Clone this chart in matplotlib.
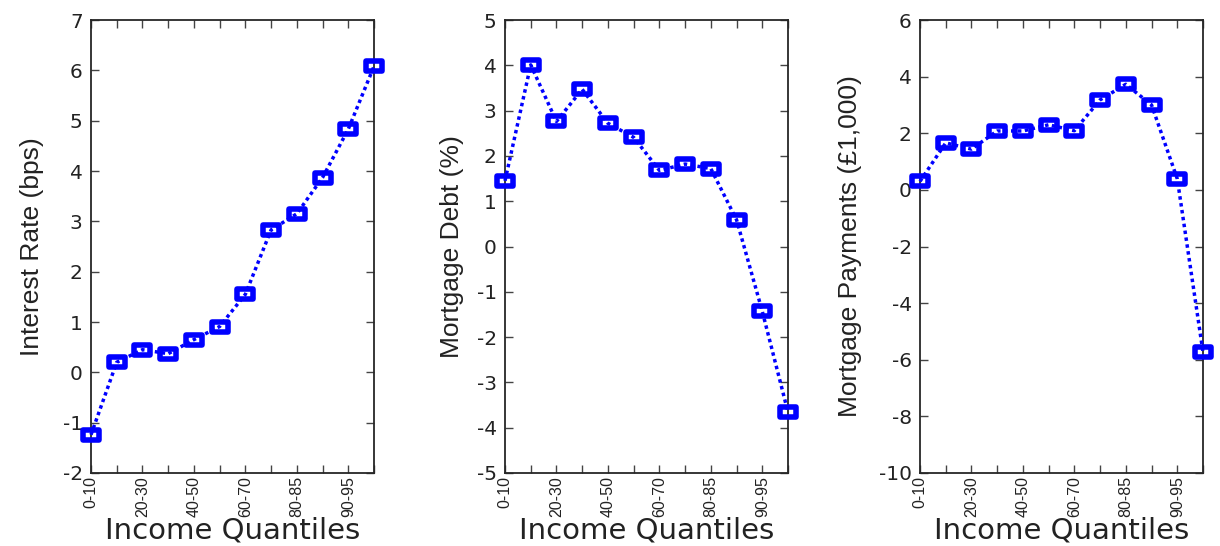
import numpy as np
import matplotlib
matplotlib.use("Agg")
import matplotlib.pyplot as plt
from matplotlib.path import Path
from matplotlib.markers import MarkerStyle

plt.rcParams['axes.unicode_minus'] = False

# Income groups along the x axis (every other one gets a label)
quantiles = ["0-10", "10-20", "20-30", "30-40", "40-50", "50-60",
             "60-70", "70-80", "80-85", "85-90", "90-95", "95-100"]

# Responses by income group
interest_rate = [-1.24, 0.20, 0.45, 0.37, 0.65, 0.91, 1.55, 2.83, 3.15, 3.87, 4.83, 6.08]
mortgage_debt = [1.45, 4.01, 2.76, 3.47, 2.72, 2.41, 1.68, 1.82, 1.72, 0.59, -1.43, -3.66]
mortgage_payments = [0.30, 1.66, 1.44, 2.08, 2.08, 2.30, 2.09, 3.18, 3.73, 3.00, 0.39, -5.73]

panels = [
    (interest_rate, "Interest Rate (bps)", (-2, 7), 1),
    (mortgage_debt, "Mortgage Debt (%)", (-5, 5), 1),
    (mortgage_payments, "Mortgage Payments (£1,000)", (-10, 6), 2),
]

# wide rectangular hollow marker with sharp corners
box = MarkerStyle(Path([(-1, -0.56), (1, -0.56), (1, 0.56), (-1, 0.56), (-1, -0.56)],
                       [Path.MOVETO, Path.LINETO, Path.LINETO, Path.LINETO, Path.CLOSEPOLY]),
                  joinstyle='miter')

fig = plt.figure(figsize=(12.2, 5.46), dpi=100, facecolor='white')

W, H = 1220.0, 546.0
lefts = [91, 505, 920]
ylabel_x = [-0.166, -0.145, -0.205]   # right edge of the rotated label, axes coords
x = np.arange(1, len(quantiles) + 1)

for left, lx, (vals, ylabel, ylim, ystep) in zip(lefts, ylabel_x, panels):
    ax = fig.add_axes([left / W, 1 - 473 / H, 283 / W, (473 - 20) / H])
    ax.plot(x, vals, color='#0000ff', lw=2.5, linestyle=(0, (1, 1)),
            marker=box, markersize=12, markeredgewidth=4,
            markerfacecolor='none', markeredgecolor='#0000ff', clip_on=False,
            zorder=3)

    ax.set_xlim(1, len(quantiles))
    ax.set_ylim(*ylim)
    ax.set_xticks(x)
    ax.set_xticklabels([q if i % 2 == 0 else "" for i, q in enumerate(quantiles)],
                       rotation=90, family='Liberation Sans', fontsize=11.5)
    yt = np.arange(ylim[0], ylim[1] + 0.1, ystep)
    ax.set_yticks(yt)
    ax.set_yticklabels([str(int(v)) for v in yt], family='DejaVu Sans', fontsize=14.5)

    ax.tick_params(direction='in', length=6, width=1.0, color='#444444',
                   top=True, right=True, labelcolor='#222222')
    ax.tick_params(axis='x', pad=2)
    ax.tick_params(axis='y', pad=6)
    for s in ax.spines.values():
        s.set_color('#262626')
        s.set_linewidth(1.3)

    ax.set_ylabel(ylabel, family='Liberation Sans', fontsize=19, color='#222222')
    ax.yaxis.set_label_coords(lx, 0.5)
    ax.set_xlabel("Income Quantiles", family='DejaVu Sans', fontsize=21,
                  color='#222222')
    ax.xaxis.set_label_coords(0.5, (473 - 516) / 453.0)

fig.savefig("out.png", dpi=100, facecolor='white')
